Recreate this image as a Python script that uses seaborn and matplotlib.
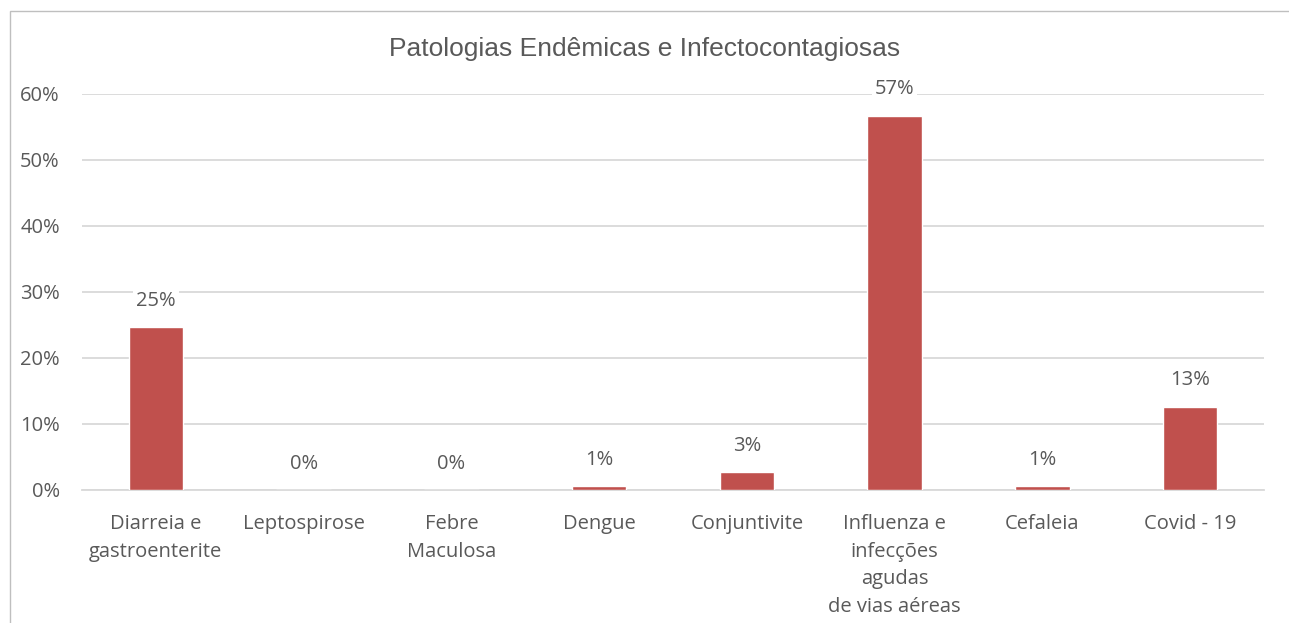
import numpy as np
import pandas as pd
import matplotlib
matplotlib.use('Agg')
import matplotlib.pyplot as plt
import seaborn as sns
from matplotlib.patches import Rectangle
from matplotlib.ticker import PercentFormatter, FixedLocator

# data
categorias = ['Diarreia e\ngastroenterite', 'Leptospirose', 'Febre\nMaculosa', 'Dengue',
              'Conjuntivite', 'Influenza e\ninfecções\nagudas\nde vias aéreas', 'Cefaleia', 'Covid - 19']
percentuais = [0.247, 0.0, 0.0, 0.006, 0.027, 0.567, 0.006, 0.126]
rotulos = ['25%', '0%', '0%', '1%', '3%', '57%', '1%', '13%']
titulo = 'Patologias Endêmicas e Infectocontagiosas'

sns.set_style('white')
plt.rcParams['font.family'] = ['Open Sans', 'DejaVu Sans']

TXT = '#595959'
GRID = '#D9D9D9'
BAR = '#C0504D'
FS = 14.5

df = pd.DataFrame({'cat': categorias, 'val': percentuais})

fig = plt.figure(figsize=(12.89, 6.23), dpi=100)
ax = fig.add_axes([0.0636, 0.2135, 0.917, 0.6357])

sns.barplot(data=df, x='cat', y='val', color=BAR, saturation=1, width=0.37, ax=ax, zorder=3)

ax.set_ylim(0, 0.6)
ax.set_xlim(-0.5, len(categorias) - 0.5)
ax.yaxis.set_major_locator(FixedLocator(np.arange(0, 0.61, 0.1)))
ax.yaxis.set_major_formatter(PercentFormatter(1.0, decimals=0))
ax.grid(axis='y', color=GRID, linewidth=1.3, zorder=0)
ax.set_axisbelow(True)

for s in ['top', 'right', 'left']:
    ax.spines[s].set_visible(False)
ax.spines['bottom'].set_color(GRID)
ax.spines['bottom'].set_linewidth(1.3)

ax.set_xlabel('')
ax.set_ylabel('')
ax.tick_params(axis='y', length=0, labelsize=FS, labelcolor=TXT, pad=16)
ax.tick_params(axis='x', length=0, labelsize=FS, labelcolor=TXT, pad=17.5)
for lab in ax.get_xticklabels():
    lab.set_linespacing(1.5)
    lab.set_va('top')

# category boundary ticks
ax.set_xticks(np.arange(-0.5, len(categorias), 1.0), minor=True)
ax.tick_params(axis='x', which='minor', length=7, color=GRID, width=1.3, direction='out')

# data labels with white boxes over the gridlines
for i, (v, r) in enumerate(zip(percentuais, rotulos)):
    ax.annotate(r, (i, v), xytext=(0, 19), textcoords='offset points',
                ha='center', va='center', fontsize=FS, color=TXT, zorder=5,
                bbox=dict(boxstyle='square,pad=0.15', fc='white', ec='none'))

fig.text(0.5, 0.922, titulo, ha='center', va='center', fontsize=19, color=TXT,
         family=['Liberation Sans', 'DejaVu Sans'])

# chart frame
fig.patches.append(Rectangle((10 / 1289, -0.01), 1.1, 1 - 11 / 623 + 0.01, transform=fig.transFigure,
                             fill=False, edgecolor='#BFBFBF', linewidth=1.0))

fig.savefig('out.png', dpi=100)
